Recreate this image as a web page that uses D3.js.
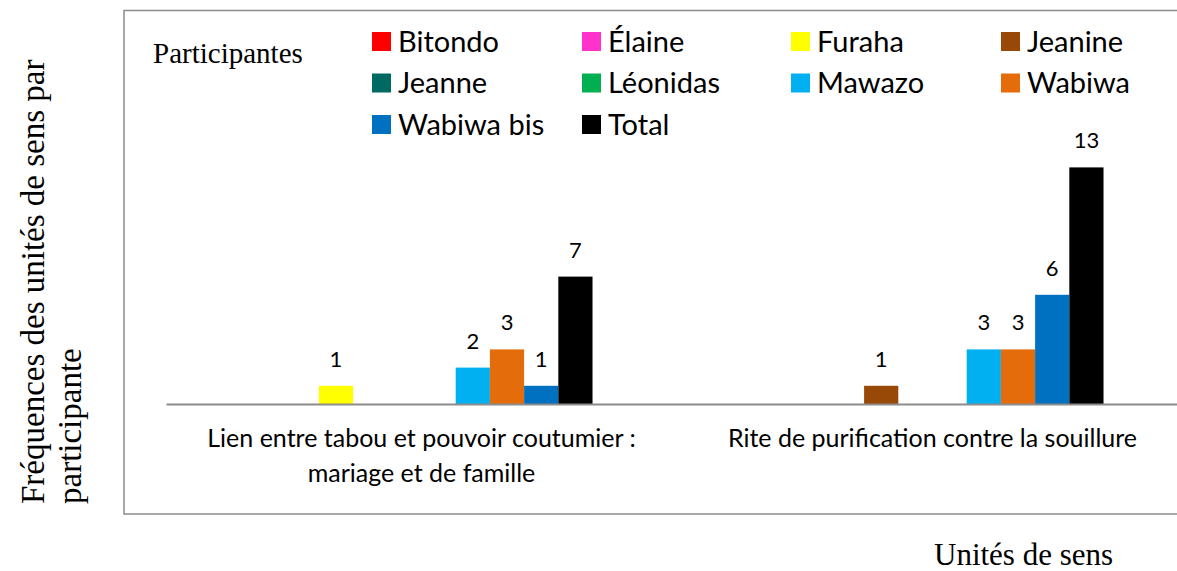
<!DOCTYPE html>
<html>
<head>
<meta charset="utf-8">
<script src="https://cdn.jsdelivr.net/npm/d3@7"></script>
<style>
  body { margin: 0; background: #fff; }
</style>
</head>
<body>
<div id="chart-area"></div>
<script>
// categories (two lines each) and participants
var categories = ["Lien entre tabou et pouvoir coutumier :|mariage et de famille",
    "Rite de purification contre la souillure"];
var participants = ["Bitondo", "Élaine", "Furaha", "Jeanine", "Jeanne",
    "Léonidas", "Mawazo", "Wabiwa", "Wabiwa bis", "Total"];
var colors = ["#ff0000", "#ff33cc", "#ffff00", "#984807", "#006a62",
    "#00b050", "#00b0f0", "#e46c0a", "#0070c0", "#000000"];
// values per participant, one per category (null = no bar)
var valuesLien = [null, null, 1, null, null, null, 2, 3, 1, 7];
var valuesRite = [null, null, null, 1, null, null, 3, 3, 6, 13];

var W = 1177, H = 571;
var axisY = 404, axisLeft = 166;
var serif = "'Liberation Serif', 'Times New Roman', serif";
var sans = "Lato, 'Open Sans', sans-serif";

var svg = d3.select("#chart-area")
    .append("svg")
    .attr("width", W)
    .attr("height", H);

// outer frame (right side runs off the picture)
svg.append("rect")
    .attr("x", 124)
    .attr("y", 10.5)
    .attr("width", 1100)
    .attr("height", 503.5)
    .attr("fill", "none")
    .attr("stroke", "#8c8c8c")
    .attr("stroke-width", 1.5);

var data = [];
categories.forEach(function (c, i) {
    var vals = i == 0 ? valuesLien : valuesRite;
    participants.forEach(function (p, j) {
        data.push({ cat: c, name: p, value: vals[j], color: colors[j] });
    });
});

var x0 = d3.scaleBand()
    .domain(categories)
    .range([axisLeft, axisLeft + 2 * 511]);

var x1 = d3.scaleBand()
    .domain(participants)
    .range([0, x0.bandwidth()])
    .paddingOuter(2.47);

var y = d3.scaleLinear()
    .domain([0, 14])
    .range([axisY, axisY - 14 * 18.2]);

var bars = data.filter(function (d) { return d.value != null; });

svg.selectAll("rect.bar")
    .data(bars)
    .enter()
    .append("rect")
    .attr("class", "bar")
    .attr("x", function (d) { return x0(d.cat) + x1(d.name); })
    .attr("y", function (d) { return y(d.value); })
    .attr("width", x1.bandwidth())
    .attr("height", function (d) { return axisY - y(d.value); })
    .attr("fill", function (d) { return d.color; });

svg.selectAll("text.val")
    .data(bars)
    .enter()
    .append("text")
    .attr("class", "val")
    .attr("x", function (d) { return x0(d.cat) + x1(d.name) + x1.bandwidth() / 2; })
    .attr("y", function (d) { return y(d.value) - 19; })
    .attr("text-anchor", "middle")
    .attr("font-family", sans)
    .attr("font-size", "22px")
    .attr("fill", "#000")
    .text(function (d) { return d.value; });

// category axis
var xAxis = d3.axisBottom(x0).tickSize(0).tickFormat("");
var xG = svg.append("g")
    .attr("transform", "translate(0," + axisY + ")")
    .call(xAxis);
xG.select(".domain")
    .attr("stroke", "#8c8c8c")
    .attr("stroke-width", 2);

categories.forEach(function (c) {
    var lines = c.split("|");
    var t = svg.append("text")
        .attr("text-anchor", "middle")
        .attr("font-family", sans)
        .attr("font-size", "25px")
        .attr("fill", "#000");
    lines.forEach(function (l, k) {
        t.append("tspan")
            .attr("x", x0(c) + x0.bandwidth() / 2)
            .attr("y", 447 + k * 35)
            .text(l);
    });
});

// legend
var legCols = [372, 582, 791, 1001];
var legRows = [41.5, 83, 124.5];
svg.append("text")
    .attr("x", 153)
    .attr("y", 63)
    .attr("font-family", serif)
    .attr("font-size", "29px")
    .attr("fill", "#000")
    .text("Participantes");

var leg = svg.selectAll("g.leg")
    .data(participants)
    .enter()
    .append("g")
    .attr("class", "leg")
    .attr("transform", function (d, i) {
        return "translate(" + legCols[i % 4] + "," + legRows[Math.floor(i / 4)] + ")";
    });
leg.append("rect")
    .attr("x", 0)
    .attr("y", -9.5)
    .attr("width", 19)
    .attr("height", 19)
    .attr("fill", function (d, i) { return colors[i]; });
leg.append("text")
    .attr("x", 26)
    .attr("y", 10)
    .attr("font-family", sans)
    .attr("font-size", "29px")
    .attr("fill", "#000")
    .text(function (d) { return d; });

// axis titles
var yTitle = svg.append("text")
    .attr("transform", "translate(44,504) rotate(-90)")
    .attr("font-family", serif)
    .attr("font-size", "33px")
    .attr("fill", "#000");
yTitle.append("tspan").attr("x", 0).attr("y", 0).text("Fréquences des unités de sens par");
yTitle.append("tspan").attr("x", 0).attr("y", 37).text("participante");

svg.append("text")
    .attr("x", 934)
    .attr("y", 565)
    .attr("font-family", serif)
    .attr("font-size", "31px")
    .attr("fill", "#000")
    .text("Unités de sens");
</script>
</body>
</html>
